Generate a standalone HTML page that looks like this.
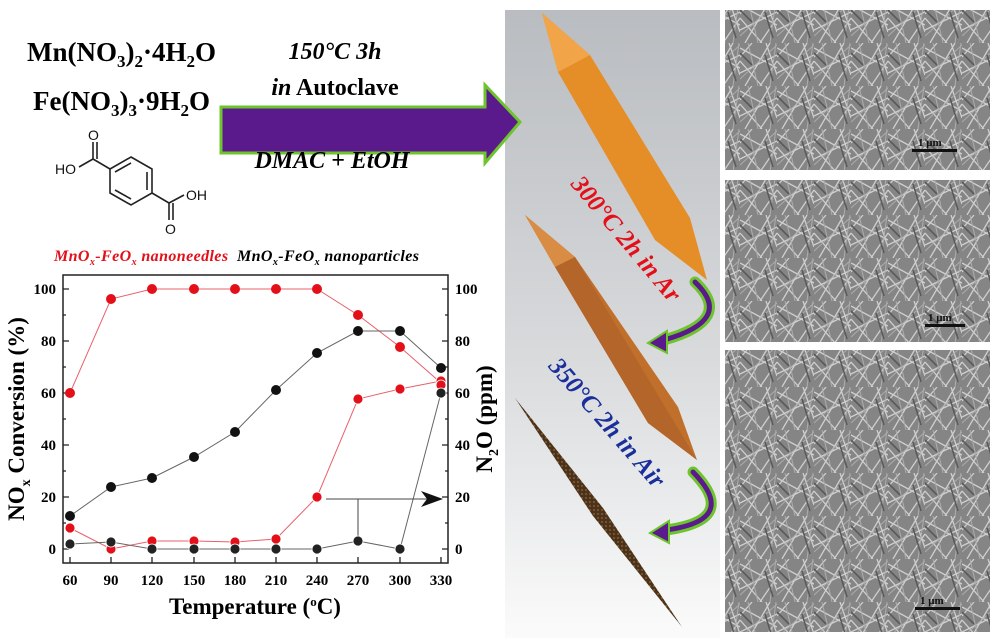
<!DOCTYPE html>
<html><head><meta charset="utf-8"><style>
body{margin:0;background:#fff;width:1000px;height:638px;overflow:hidden}
svg{display:block}
text{font-family:"Liberation Serif",serif;font-weight:bold}
</style></head><body>
<svg width="1000" height="638" viewBox="0 0 1000 638" xmlns="http://www.w3.org/2000/svg">
<defs>
<linearGradient id="bg" x1="0" y1="0" x2="0" y2="1">
<stop offset="0" stop-color="#b9bcc0"/><stop offset="0.55" stop-color="#d8dadc"/><stop offset="1" stop-color="#fbfbfb"/>
</linearGradient>
<pattern id="sem" width="37" height="43" patternUnits="userSpaceOnUse">
<rect width="37" height="43" fill="#858585"/>
<path d="M0 5 L37 25 M5 43 L30 0 M0 30 L37 12 M20 43 L37 18 M0 18 L22 43 M12 0 L0 14 M26 0 L37 32" stroke="#cfcfcf" stroke-width="1.3"/>
<path d="M8 0 L18 43 M0 36 L37 2 M30 43 L36 0" stroke="#adadad" stroke-width="1"/>
<path d="M0 10 L12 22 M25 12 L33 38" stroke="#5a5a5a" stroke-width="1.6"/>
</pattern>
<pattern id="dots" width="4" height="4" patternUnits="userSpaceOnUse">
<rect width="4" height="4" fill="#4d3219"/><circle cx="2" cy="2" r="0.9" fill="#8a6a40"/>
</pattern>
</defs>

<rect x="505" y="10" width="215" height="628" fill="url(#bg)"/>

<rect x="725" y="10" width="265" height="160" fill="url(#sem)"/>
<rect x="725" y="180" width="265" height="162" fill="url(#sem)"/>
<rect x="725" y="350" width="265" height="282" fill="url(#sem)"/>
<g fill="#111"><rect x="912" y="149" width="45" height="3"/><rect x="925" y="324" width="40" height="3"/><rect x="915" y="607" width="45" height="3"/></g>
<g font-size="11" fill="#111"><text x="918" y="146">1 μm</text><text x="928" y="321">1 μm</text><text x="920" y="604">1 μm</text></g>

<polygon points="542,13 590,55 690,218 707,280 655,240 558,72" fill="#e58e28"/>
<polygon points="542,13 590,55 558,72" fill="#f2a548"/>
<polygon points="525,215 575,257 678,407 697,460 648,423 555,267" fill="#c1702c"/>
<polygon points="525,215 575,257 555,267" fill="#d98c44"/>
<polygon points="555,267 575,257 697,460 648,423" fill="#b4652a"/>
<polygon points="515,398 603,508 682,627 593,516" fill="url(#dots)"/>

<text font-size="25" font-style="italic" fill="#e3101a" text-anchor="middle" transform="translate(620,244) rotate(50)">300°C 2h in Ar</text>
<text font-size="25" font-style="italic" fill="#1a2f9a" text-anchor="middle" transform="translate(601,428) rotate(49)">350°C 2h in Air</text>

<g fill="none" stroke-linecap="round">
<path d="M695 282 Q735 320 664 340" stroke="#6dc42c" stroke-width="11"/>
<path d="M695 282 Q735 320 664 340" stroke="#5a1a8c" stroke-width="5"/>
<path d="M693 472 Q740 520 666 530" stroke="#6dc42c" stroke-width="11"/>
<path d="M693 472 Q740 520 666 530" stroke="#5a1a8c" stroke-width="5"/>
</g>
<polygon points="648,343 667,331 667,353" fill="#5a1a8c" stroke="#6dc42c" stroke-width="2"/>
<polygon points="650,533 669,521 669,543" fill="#5a1a8c" stroke="#6dc42c" stroke-width="2"/>

<polygon points="221,107 485,107 485,85 520,122 485,163 485,153 221,153" fill="#5a1a8c" stroke="#6dc42c" stroke-width="3"/>
<text x="335" y="59" font-size="24" font-style="italic" text-anchor="middle">150°C 3h</text>
<text x="335" y="95" font-size="24" text-anchor="middle"><tspan font-style="italic">in</tspan> Autoclave</text>
<text x="332" y="168" font-size="24" font-style="italic" text-anchor="middle">DMAC + EtOH</text>

<text x="27" y="61" font-size="27">Mn(NO<tspan font-size="17" dy="6">3</tspan><tspan dy="-6">)</tspan><tspan font-size="17" dy="6">2</tspan><tspan dy="-6">·4H</tspan><tspan font-size="17" dy="6">2</tspan><tspan dy="-6">O</tspan></text>
<text x="33" y="110" font-size="27">Fe(NO<tspan font-size="17" dy="6">3</tspan><tspan dy="-6">)</tspan><tspan font-size="17" dy="6">3</tspan><tspan dy="-6">·9H</tspan><tspan font-size="17" dy="6">2</tspan><tspan dy="-6">O</tspan></text>

<g stroke="#222" stroke-width="1.6" fill="none">
<polygon points="131,157 152,169 152,193 131,205 110,193 110,169"/>
<path d="M115 172 L131 163 M147 172 L147 190 M115 190 L131 199"/>
<path d="M110 169 L93 159 L93 142 M97 159 L97 142 M93 159 L79 167"/>
<path d="M152 193 L169 203 L169 220 M173 203 L173 220 M169 203 L184 195"/>
</g>
<g font-size="14" fill="#111">
<text x="55" y="174" style="font-weight:normal;font-family:'Liberation Sans'">HO</text>
<text x="186" y="200" style="font-weight:normal;font-family:'Liberation Sans'">OH</text>
<text x="88" y="140" style="font-weight:normal;font-family:'Liberation Sans'">O</text>
<text x="165" y="234" style="font-weight:normal;font-family:'Liberation Sans'">O</text>
</g>

<text x="54" y="261" font-size="16" font-style="italic" fill="#e3101a" letter-spacing="0.4">MnO<tspan font-size="10" dy="4">x</tspan><tspan dy="-4">-FeO</tspan><tspan font-size="10" dy="4">x</tspan><tspan dy="-4"> nanoneedles</tspan></text>
<text x="237" y="261" font-size="16" font-style="italic" letter-spacing="0.4">MnO<tspan font-size="10" dy="4">x</tspan><tspan dy="-4">-FeO</tspan><tspan font-size="10" dy="4">x</tspan><tspan dy="-4"> nanoparticles</tspan></text>

<rect x="63" y="275" width="385" height="288" fill="none" stroke="#222" stroke-width="1.5"/>
<g stroke="#222" stroke-width="1.3">
<path d="M63 289h6M63 341h6M63 393h6M63 445h6M63 497h6M63 549h6M63 315h3M63 367h3M63 419h3M63 471h3M63 523h3"/>
<path d="M448 289h-6M448 341h-6M448 393h-6M448 445h-6M448 497h-6M448 549h-6M448 315h-3M448 367h-3M448 419h-3M448 471h-3M448 523h-3"/>
<path d="M70 563v-6M111 563v-6M152 563v-6M194 563v-6M235 563v-6M276 563v-6M317 563v-6M358 563v-6M400 563v-6M441 563v-6"/>
</g>
<g font-size="15" text-anchor="end">
<text x="56" y="294">100</text><text x="56" y="346">80</text><text x="56" y="398">60</text><text x="56" y="450">40</text><text x="56" y="502">20</text><text x="56" y="554">0</text>
</g>
<g font-size="15" text-anchor="start">
<text x="455" y="294">100</text><text x="455" y="346">80</text><text x="455" y="398">60</text><text x="455" y="450">40</text><text x="455" y="502">20</text><text x="455" y="554">0</text>
</g>
<g font-size="15" text-anchor="middle">
<text x="70" y="585">60</text><text x="111" y="585">90</text><text x="152" y="585">120</text><text x="194" y="585">150</text><text x="235" y="585">180</text><text x="276" y="585">210</text><text x="317" y="585">240</text><text x="358" y="585">270</text><text x="400" y="585">300</text><text x="441" y="585">330</text>
</g>
<text x="255" y="614" font-size="23" text-anchor="middle">Temperature (<tspan font-size="13" dy="-8">o</tspan><tspan dy="8">C)</tspan></text>
<text transform="translate(24,419) rotate(-90)" font-size="23" text-anchor="middle">NO<tspan font-size="14" dy="6">x</tspan><tspan dy="-6"> Conversion (%)</tspan></text>
<text transform="translate(492,419) rotate(-90)" font-size="23" text-anchor="middle">N<tspan font-size="14" dy="6">2</tspan><tspan dy="-6">O (ppm)</tspan></text>

<g fill="none" stroke-width="1">
<polyline stroke="#e8606a" points="70,393 111,299 152,289 194,289 235,289 276,289 317,289 358,315 400,347 441,383"/>
<polyline stroke="#666" points="70,516 111,487 152,478 194,457 235,432 276,390 317,353 358,331 400,331 441,368"/>
<polyline stroke="#e8606a" points="70,528 111,549 152,541 194,541 235,542 276,539 317,497 358,399 400,389 441,381"/>
<polyline stroke="#666" points="70,544 111,542 152,549 194,549 235,549 276,549 317,549 358,541 400,549 441,393"/>
<path d="M326 499H428M358 499V541" stroke="#444"/>
</g>
<polygon points="443,499 421,491 427,499 421,507" fill="#111"/>

<g fill="#e3101a">
<circle cx="70" cy="393" r="5"/><circle cx="111" cy="299" r="5"/><circle cx="152" cy="289" r="5"/><circle cx="194" cy="289" r="5"/><circle cx="235" cy="289" r="5"/><circle cx="276" cy="289" r="5"/><circle cx="317" cy="289" r="5"/><circle cx="358" cy="315" r="5"/><circle cx="400" cy="347" r="5"/>
</g>
<g fill="#111">
<circle cx="70" cy="516" r="5"/><circle cx="111" cy="487" r="5"/><circle cx="152" cy="478" r="5"/><circle cx="194" cy="457" r="5"/><circle cx="235" cy="432" r="5"/><circle cx="276" cy="390" r="5"/><circle cx="317" cy="353" r="5"/><circle cx="358" cy="331" r="5"/><circle cx="400" cy="331" r="5"/><circle cx="441" cy="368" r="5"/>
</g>
<g fill="#e3101a" stroke="#fff" stroke-width="0.8">
<circle cx="70" cy="528" r="5"/><circle cx="111" cy="549" r="5"/><circle cx="152" cy="541" r="5"/><circle cx="194" cy="541" r="5"/><circle cx="235" cy="542" r="5"/><circle cx="276" cy="539" r="5"/><circle cx="317" cy="497" r="5"/><circle cx="358" cy="399" r="5"/><circle cx="400" cy="389" r="5"/><circle cx="441" cy="381" r="5"/><circle cx="441" cy="385" r="5"/>
</g>
<g fill="#222" stroke="#fff" stroke-width="0.8">
<circle cx="70" cy="544" r="5"/><circle cx="111" cy="542" r="5"/><circle cx="152" cy="549" r="5"/><circle cx="194" cy="549" r="5"/><circle cx="235" cy="549" r="5"/><circle cx="276" cy="549" r="5"/><circle cx="317" cy="549" r="5"/><circle cx="358" cy="541" r="5"/><circle cx="400" cy="549" r="5"/><circle cx="441" cy="393" r="5"/>
</g>
</svg>
</body></html>
